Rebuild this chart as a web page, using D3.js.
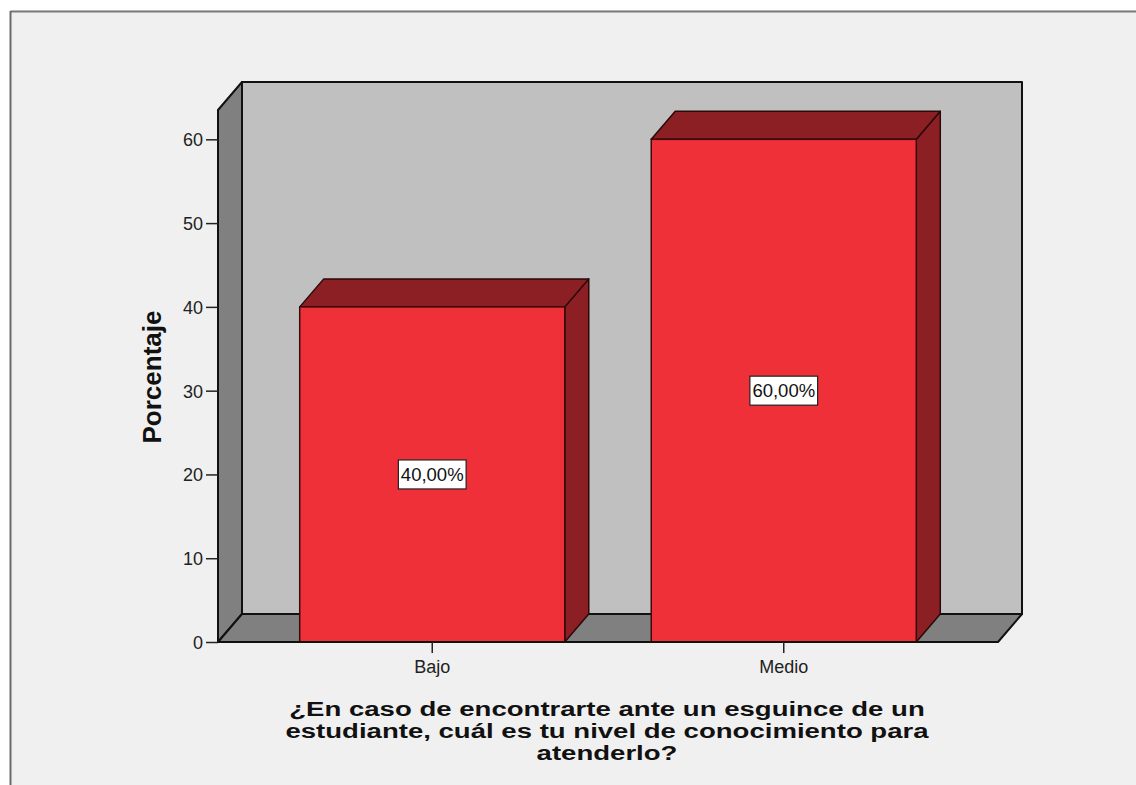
<!DOCTYPE html>
<html><head><meta charset="utf-8">
<script src="https://cdn.jsdelivr.net/npm/d3@7"></script>
<style>body{margin:0;background:#fff;}svg{display:block;}</style>
</head><body>
<svg id="c" width="1136" height="785"></svg>
<script>
const categories = ["Bajo", "Medio"];
const values = [40, 60];
const valueLabels = ["40,00%", "60,00%"];
const yTicks = [0, 10, 20, 30, 40, 50, 60];
const yTitle = "Porcentaje";
const xTitleLines = ["¿En caso de encontrarte ante un esguince de un", "estudiante, cuál es tu nivel de conocimiento para", "atenderlo?"];

const svg = d3.select("#c");
const W = 1136, H = 785;
const x0 = 218, x1 = 998, yBase = 642, yTop = 110;
const dx = 24, dy = -28;
const font = "'Liberation Sans', Arial, sans-serif";

// background
svg.append("rect").attr("x",0).attr("y",0).attr("width",W).attr("height",H).attr("fill","#f0f0f0");
svg.append("rect").attr("x",0).attr("y",0).attr("width",W).attr("height",10).attr("fill","#ffffff");
svg.append("rect").attr("x",0).attr("y",0).attr("width",10).attr("height",H).attr("fill","#ffffff");
svg.append("line").attr("x1",10.5).attr("x2",W).attr("y1",11.5).attr("y2",11.5).attr("stroke","#7a7a7a").attr("stroke-width",2);
svg.append("line").attr("x1",10.5).attr("x2",10.5).attr("y1",11).attr("y2",H).attr("stroke","#6a6a6a").attr("stroke-width",2);

const y = d3.scaleLinear().domain([0, 63.5]).range([yBase, yTop]);
const x = d3.scaleBand().domain(categories).range([x0, x1]).paddingInner(0.246).paddingOuter(0.2325);

const pts = a => a.map(p => p.join(",")).join(" ");
const wallStroke = "#111";

// back wall
svg.append("polygon").attr("points", pts([[x0+dx, yTop+dy],[x1+dx, yTop+dy],[x1+dx, yBase+dy],[x0+dx, yBase+dy]]))
  .attr("fill","#c0c0c0").attr("stroke",wallStroke).attr("stroke-width",2).attr("stroke-linejoin","round");
// left wall
svg.append("polygon").attr("points", pts([[x0, yBase],[x0, yTop],[x0+dx, yTop+dy],[x0+dx, yBase+dy]]))
  .attr("fill","#808080").attr("stroke",wallStroke).attr("stroke-width",2).attr("stroke-linejoin","round");
// floor
svg.append("polygon").attr("points", pts([[x0, yBase],[x1, yBase],[x1+dx, yBase+dy],[x0+dx, yBase+dy]]))
  .attr("fill","#808080").attr("stroke",wallStroke).attr("stroke-width",2).attr("stroke-linejoin","round");

// y axis
const yAxis = d3.axisLeft(y).tickValues(yTicks).tickSize(12).tickPadding(3).tickFormat(d3.format("d"));
const ya = svg.append("g").attr("transform",`translate(${x0},0)`).call(yAxis);
ya.select(".domain").remove();
ya.selectAll(".tick line").attr("stroke","#222").attr("stroke-width",1.5);
ya.selectAll(".tick text").attr("font-family",font).attr("font-size",18).attr("fill","#222").attr("dy","0.36em");

// bars
const bars = svg.append("g");
categories.forEach((c, i) => {
  const bx = x(c), bw = x.bandwidth(), by = y(values[i]);
  const g = bars.append("g");
  g.append("polygon").attr("points", pts([[bx+bw, by],[bx+bw+dx, by+dy],[bx+bw+dx, yBase+dy],[bx+bw, yBase]]))
    .attr("fill","#8b1f24").attr("stroke","#2a0a0a").attr("stroke-width",1.5).attr("stroke-linejoin","round");
  g.append("polygon").attr("points", pts([[bx, by],[bx+dx, by+dy],[bx+bw+dx, by+dy],[bx+bw, by]]))
    .attr("fill","#8b1f24").attr("stroke","#2a0a0a").attr("stroke-width",1.5).attr("stroke-linejoin","round");
  g.append("rect").attr("x",bx).attr("y",by).attr("width",bw).attr("height",yBase-by)
    .attr("fill","#ef3039").attr("stroke","#3a0a0a").attr("stroke-width",1.5);
});

// floor front edge redraw
svg.append("line").attr("x1",x0).attr("x2",x1).attr("y1",yBase).attr("y2",yBase).attr("stroke","#111").attr("stroke-width",2);

// x ticks
const xa = svg.append("g");
categories.forEach(c => {
  const cx = x(c) + x.bandwidth()/2;
  xa.append("line").attr("x1",cx).attr("x2",cx).attr("y1",yBase).attr("y2",yBase+11).attr("stroke","#222").attr("stroke-width",1.5);
  xa.append("text").attr("x",cx).attr("y",673).attr("text-anchor","middle").attr("font-family",font).attr("font-size",18).attr("fill","#222").text(c);
});

// value labels
categories.forEach((c, i) => {
  const cx = x(c) + x.bandwidth()/2, cy = y(values[i]/2);
  const t = svg.append("text").attr("x",cx).attr("y",cy).attr("dy","0.36em").attr("text-anchor","middle")
    .attr("font-family",font).attr("font-size",18.5).attr("fill","#111").text(valueLabels[i]);
  const bb = t.node().getBBox();
  svg.insert("rect", () => t.node()).attr("x",bb.x-2.5).attr("y",cy-14.5).attr("width",bb.width+5).attr("height",29)
    .attr("fill","#ffffff").attr("stroke","#222").attr("stroke-width",1.2);
});

// y title
svg.append("text").attr("transform","translate(161,377) rotate(-90)").attr("text-anchor","middle")
  .attr("font-family",font).attr("font-size",26).attr("font-weight","bold").attr("fill","#111").text(yTitle);

// x title (horizontally stretched like the reference)
const xtg = svg.append("g").attr("transform","translate(607,0) scale(1.345,1)");
xTitleLines.forEach((l, i) => {
  xtg.append("text").attr("x",0).attr("y",716 + i*22).attr("text-anchor","middle")
    .attr("font-family",font).attr("font-size",20.5).attr("font-weight","bold").attr("fill","#111").text(l);
});
</script>
</body></html>
